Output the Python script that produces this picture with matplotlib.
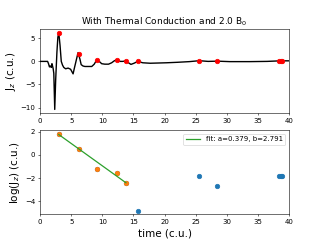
import matplotlib
matplotlib.use("Agg")
import matplotlib.pyplot as plt

# ---- Data ----
time = [0.0, 1.2, 1.35, 1.5, 1.65, 1.8, 1.9, 2.0, 2.1, 2.2, 2.35, 2.5, 2.7, 2.85, 3.0,
        3.2, 3.4, 3.6, 3.8, 4.1, 4.5, 4.9, 5.1, 5.3, 5.5, 5.8, 6.1, 6.4, 6.6, 6.9, 7.2,
        7.8, 8.3, 8.7, 9.0, 9.2, 9.5, 9.9, 10.4, 11.0, 11.5, 11.9, 12.2, 12.6, 12.9,
        13.3, 13.7, 14.1, 14.6, 15.1, 15.7, 16.5, 17.7, 19.0, 20.3, 22.0, 24.0, 25.6,
        27.0, 28.5, 30.5, 33.7, 36.5, 38.6, 40.0]
jz = [0.0, 0.0, -0.5, -1.2, -1.0, -1.3, -0.5, -1.0, -1.6, -2.6, -10.4, -4.0, 2.0, 5.2, 6.2,
      3.5, 0.0, -0.8, -1.3, -1.6, -1.45, -1.7, -2.2, -2.7, -1.5, 0.2, 1.9, 0.5, -0.7, -1.0, -1.1,
      -1.1, -1.1, -0.6, 0.1, 0.35, 0.0, -0.5, -0.6, -0.6, -0.3, 0.1, 0.3, 0.1, 0.0,
      0.0, 0.1, -0.2, -0.65, -0.4, 0.0, -0.3, -0.4, -0.35, -0.3, -0.2, -0.05, 0.15,
      0.0, 0.05, -0.05, -0.05, 0.0, 0.12, 0.12]

peak_t = [3.0, 6.2, 9.2, 12.3, 13.8, 15.7, 25.6, 28.5, 38.4, 38.7, 38.9]
peak_jz = [6.1, 1.7, 0.3, 0.2, 0.09, 0.008, 0.16, 0.07, 0.16, 0.16, 0.16]
log_peak = [1.8, 0.5, -1.25, -1.6, -2.4, -4.8, -1.85, -2.65, -1.85, -1.85, -1.85]

N_FIT = 5
fit_t = [3.0, 13.8]
fit_y = [1.75, -2.4]
fit_label = "fit: a=0.379, b=2.791"

fig, (ax1, ax2) = plt.subplots(2, 1, figsize=(6.42, 4.82), dpi=50)

ax1.plot(time, jz, color="black", lw=2)
ax1.plot(peak_t, peak_jz, "ro", ms=6.5)
ax1.set_xlim(0, 40)
ax1.set_ylabel("J$_z$ (c.u.)", fontsize=15)
ax1.set_title("With Thermal Conduction and 2.0 B$_0$", fontsize=13)

ax2.scatter(peak_t, log_peak, s=42)
ax2.scatter(peak_t[:N_FIT], log_peak[:N_FIT], s=42)
ax2.plot(fit_t, fit_y, color="tab:green", lw=1.8, label=fit_label)
ax2.set_xlim(0, 40)
ax2.set_xlabel("time (c.u.)", fontsize=15)
ax2.set_ylabel("log(J$_z$) (c.u.)", fontsize=15)
ax2.legend(loc="upper right")

fig.savefig("out.png", dpi=50)
